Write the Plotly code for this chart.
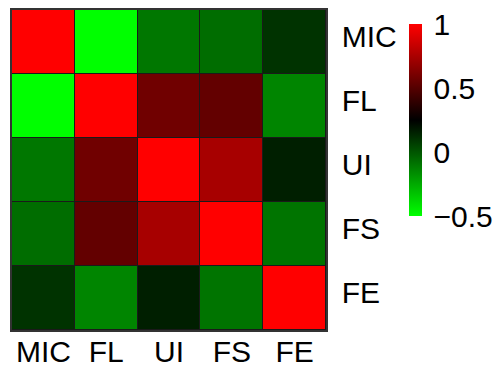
import plotly.graph_objects as go

# Variables shown on both axes
labels = ["MIC", "FL", "UI", "FS", "FE"]

# Correlation matrix, one row per variable (same order as labels)
row_mic = [1.00, -0.50, -0.10, -0.07, 0.10]
row_fl = [-0.50, 1.00, 0.58, 0.54, -0.14]
row_ui = [-0.10, 0.58, 1.00, 0.74, 0.16]
row_fs = [-0.07, 0.54, 0.74, 1.00, -0.09]
row_fe = [0.10, -0.14, 0.16, -0.09, 1.00]

colorbar_ticks = [1, 0.5, 0, -0.5]
colorbar_ticktext = ["1", "0.5", "0", "\u22120.5"]

z = [row_mic, row_fl, row_ui, row_fs, row_fe]

font_family = "Liberation Sans, Arial, sans-serif"
font_size = 30

# Plot area in pixels
W, H = 496, 370
ml, mr, mt, mb = 12, 170, 10, 40
pw = W - ml - mr
ph = H - mt - mb

cb_left_px = 409
cb_top_px, cb_bot_px = 24, 216

fig = go.Figure(
    go.Heatmap(
        z=z,
        x=labels,
        y=labels,
        zmin=-0.5,
        zmax=1,
        colorscale=[[0, "#00ff00"], [0.5, "#000000"], [1, "#ff0000"]],
        xgap=1,
        ygap=1,
        hoverinfo="skip",
        colorbar=dict(
            thickness=13,
            thicknessmode="pixels",
            len=cb_bot_px - cb_top_px,
            lenmode="pixels",
            x=(cb_left_px - ml) / pw,
            xanchor="left",
            xpad=0,
            y=(H - mb - (cb_top_px + cb_bot_px) / 2) / ph,
            yanchor="middle",
            ypad=0,
            outlinewidth=0,
            tickvals=colorbar_ticks,
            ticktext=colorbar_ticktext,
            ticks="outside",
            ticklen=6,
            tickcolor="rgba(0,0,0,0)",
            tickfont=dict(family=font_family, size=font_size, color="#000"),
        ),
    )
)

fig.update_xaxes(
    showgrid=False,
    zeroline=False,
    showline=True,
    mirror=True,
    linecolor="#333333",
    linewidth=1.5,
    ticks="",
    automargin=False,
    ticklabelstandoff=-6,
    tickfont=dict(family=font_family, size=font_size, color="#000"),
)
fig.update_yaxes(
    showgrid=False,
    zeroline=False,
    showline=True,
    mirror=True,
    linecolor="#333333",
    linewidth=1.5,
    autorange="reversed",
    side="right",
    ticks="",
    automargin=False,
    ticklabelstandoff=8,
    ticklabelshift=6,
    tickfont=dict(family=font_family, size=font_size, color="#000"),
)

fig.update_layout(
    width=W,
    height=H,
    margin=dict(l=ml, r=mr, t=mt, b=mb, autoexpand=False),
    paper_bgcolor="white",
    plot_bgcolor="#1a1a1a",
    showlegend=False,
)

fig.write_html("out.html")
